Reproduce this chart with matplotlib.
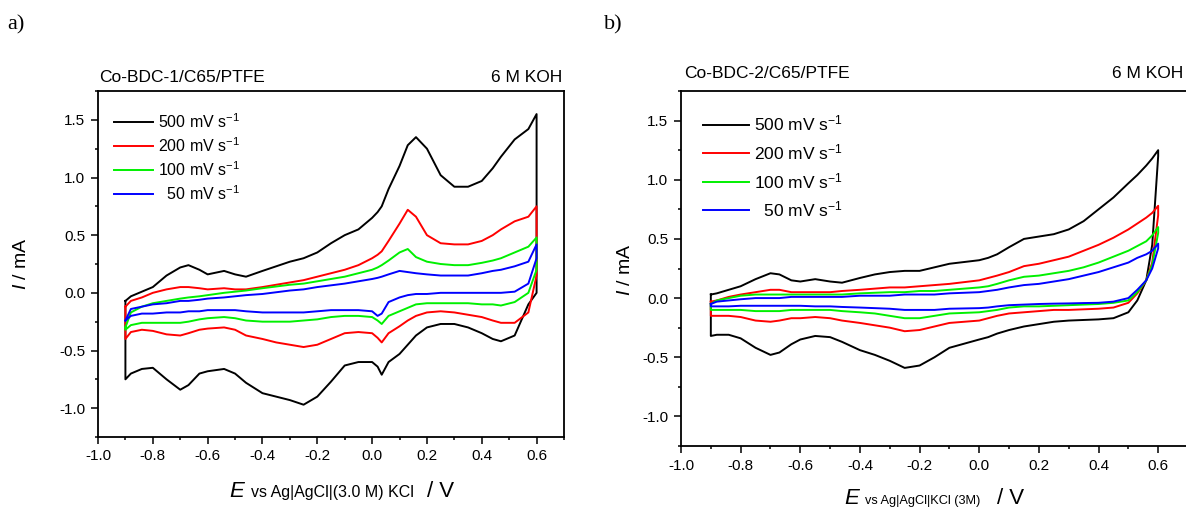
import numpy as np
import matplotlib
matplotlib.use('Agg')
import matplotlib.pyplot as plt
from matplotlib.ticker import MultipleLocator

plt.rcParams['font.family'] = 'Liberation Sans'
plt.rcParams['mathtext.fontset'] = 'custom'
plt.rcParams['mathtext.rm'] = 'Liberation Sans'
plt.rcParams['mathtext.it'] = 'Liberation Sans:italic'

W, H = 1186, 508

rates = ['500 mV s$^{-1}$', '200 mV s$^{-1}$', '100 mV s$^{-1}$', '  50 mV s$^{-1}$']
colors = ['black', '#ff0000', '#00f000', '#0000ff']

# panel a: Co-BDC-1, potential grid (V) and anodic / cathodic currents (mA)
E_a = [-0.9, -0.88, -0.84, -0.8, -0.75, -0.7, -0.67, -0.63, -0.6, -0.54, -0.5, -0.46,
       -0.4, -0.35, -0.3, -0.25, -0.2, -0.15, -0.1, -0.05, 0.0, 0.02, 0.035, 0.06, 0.1,
       0.13, 0.16, 0.2, 0.25, 0.3, 0.35, 0.4, 0.44, 0.47, 0.52, 0.57, 0.6]
a500_up = [-0.07, -0.03, 0.01, 0.05, 0.15, 0.22, 0.24, 0.2, 0.16, 0.19, 0.16, 0.14,
           0.19, 0.23, 0.27, 0.3, 0.35, 0.43, 0.5, 0.55, 0.65, 0.7, 0.75, 0.9, 1.1,
           1.28, 1.35, 1.25, 1.02, 0.92, 0.92, 0.97, 1.08, 1.18, 1.33, 1.42, 1.55]
a500_dn = [-0.75, -0.7, -0.66, -0.65, -0.75, -0.84, -0.8, -0.7, -0.68, -0.66, -0.7, -0.78,
           -0.87, -0.9, -0.93, -0.97, -0.9, -0.77, -0.63, -0.6, -0.6, -0.64, -0.71, -0.6, -0.53,
           -0.45, -0.37, -0.3, -0.27, -0.27, -0.3, -0.35, -0.4, -0.42, -0.37, -0.1, 0.0]
a200_up = [-0.12, -0.07, -0.04, 0.0, 0.03, 0.05, 0.05, 0.04, 0.03, 0.04, 0.03, 0.03,
           0.05, 0.07, 0.09, 0.11, 0.14, 0.17, 0.2, 0.24, 0.3, 0.33, 0.36, 0.45, 0.6,
           0.72, 0.66, 0.5, 0.43, 0.42, 0.42, 0.45, 0.5, 0.55, 0.62, 0.66, 0.75]
a200_dn = [-0.4, -0.34, -0.32, -0.33, -0.36, -0.37, -0.35, -0.32, -0.31, -0.3, -0.32, -0.37,
           -0.4, -0.43, -0.45, -0.47, -0.45, -0.4, -0.35, -0.34, -0.35, -0.39, -0.43, -0.35, -0.29,
           -0.24, -0.2, -0.17, -0.16, -0.17, -0.19, -0.21, -0.24, -0.26, -0.26, -0.17, 0.15]
a100_up = [-0.3, -0.17, -0.12, -0.09, -0.07, -0.05, -0.04, -0.03, -0.02, 0.0, 0.01, 0.02,
           0.04, 0.055, 0.07, 0.08, 0.1, 0.12, 0.14, 0.17, 0.2, 0.22, 0.24, 0.28, 0.35,
           0.38, 0.31, 0.27, 0.25, 0.24, 0.24, 0.26, 0.28, 0.3, 0.35, 0.4, 0.48]
a100_dn = [-0.32, -0.28, -0.26, -0.26, -0.26, -0.26, -0.25, -0.23, -0.22, -0.21, -0.22, -0.24,
           -0.25, -0.25, -0.25, -0.24, -0.23, -0.21, -0.2, -0.2, -0.21, -0.24, -0.27, -0.2, -0.16,
           -0.13, -0.1, -0.09, -0.09, -0.09, -0.09, -0.1, -0.1, -0.11, -0.08, 0.0, 0.2]
a50_up = [-0.24, -0.14, -0.12, -0.1, -0.09, -0.07, -0.07, -0.06, -0.05, -0.04, -0.03, -0.02,
          -0.01, 0.005, 0.02, 0.03, 0.05, 0.065, 0.08, 0.1, 0.12, 0.13, 0.14, 0.16, 0.19,
          0.18, 0.17, 0.16, 0.15, 0.15, 0.15, 0.17, 0.19, 0.2, 0.23, 0.27, 0.42]
a50_dn = [-0.24, -0.2, -0.18, -0.18, -0.17, -0.17, -0.16, -0.16, -0.15, -0.15, -0.15, -0.16,
          -0.17, -0.17, -0.17, -0.17, -0.16, -0.15, -0.15, -0.15, -0.16, -0.2, -0.18, -0.08, -0.04,
          -0.02, -0.01, -0.01, 0.0, 0.0, 0.0, 0.0, 0.0, 0.0, 0.01, 0.08, 0.3]

# panel b: Co-BDC-2
E_b = [-0.9, -0.88, -0.84, -0.8, -0.75, -0.7, -0.67, -0.63, -0.6, -0.55, -0.5, -0.46,
       -0.4, -0.35, -0.3, -0.25, -0.2, -0.15, -0.1, 0.0, 0.03, 0.06, 0.1, 0.15, 0.2,
       0.25, 0.3, 0.35, 0.4, 0.45, 0.5, 0.53, 0.56, 0.58, 0.6]
b500_up = [0.03, 0.04, 0.07, 0.1, 0.16, 0.21, 0.2, 0.15, 0.14, 0.16, 0.14, 0.13,
           0.17, 0.2, 0.22, 0.23, 0.23, 0.26, 0.29, 0.32, 0.34, 0.37, 0.43, 0.5, 0.52,
           0.54, 0.58, 0.65, 0.75, 0.85, 0.97, 1.04, 1.12, 1.18, 1.25]
b500_dn = [-0.32, -0.31, -0.31, -0.34, -0.42, -0.48, -0.46, -0.39, -0.35, -0.32, -0.33, -0.37,
           -0.44, -0.48, -0.53, -0.59, -0.57, -0.5, -0.42, -0.35, -0.33, -0.3, -0.27, -0.24, -0.22,
           -0.2, -0.19, -0.185, -0.18, -0.17, -0.12, -0.02, 0.15, 0.45, 1.2]
b200_up = [-0.03, -0.02, 0.01, 0.03, 0.05, 0.07, 0.07, 0.05, 0.05, 0.05, 0.05, 0.06,
           0.07, 0.08, 0.09, 0.09, 0.1, 0.11, 0.12, 0.15, 0.17, 0.19, 0.22, 0.27, 0.29,
           0.32, 0.35, 0.4, 0.45, 0.51, 0.58, 0.63, 0.68, 0.72, 0.78]
b200_dn = [-0.15, -0.15, -0.15, -0.16, -0.19, -0.2, -0.19, -0.17, -0.17, -0.16, -0.17, -0.19,
           -0.21, -0.23, -0.25, -0.28, -0.27, -0.24, -0.21, -0.19, -0.17, -0.15, -0.13, -0.12, -0.11,
           -0.1, -0.1, -0.095, -0.09, -0.08, -0.04, 0.04, 0.15, 0.3, 0.7]
b100_up = [-0.05, -0.02, 0.0, 0.02, 0.03, 0.03, 0.03, 0.03, 0.03, 0.03, 0.03, 0.03,
           0.04, 0.045, 0.05, 0.05, 0.06, 0.06, 0.07, 0.09, 0.1, 0.12, 0.15, 0.18, 0.19,
           0.21, 0.23, 0.26, 0.3, 0.35, 0.4, 0.44, 0.48, 0.53, 0.6]
b100_dn = [-0.1, -0.1, -0.1, -0.1, -0.11, -0.11, -0.11, -0.1, -0.1, -0.1, -0.1, -0.11,
           -0.12, -0.13, -0.15, -0.17, -0.17, -0.15, -0.13, -0.12, -0.11, -0.1, -0.08, -0.07, -0.07,
           -0.065, -0.06, -0.055, -0.05, -0.04, -0.02, 0.05, 0.15, 0.28, 0.55]
b50_up = [-0.05, -0.03, -0.02, -0.01, 0.0, 0.0, 0.0, 0.01, 0.01, 0.01, 0.01, 0.01,
          0.02, 0.02, 0.02, 0.03, 0.03, 0.03, 0.04, 0.05, 0.06, 0.07, 0.09, 0.11, 0.12,
          0.14, 0.16, 0.19, 0.22, 0.26, 0.3, 0.34, 0.37, 0.4, 0.46]
b50_dn = [-0.07, -0.07, -0.07, -0.065, -0.065, -0.065, -0.065, -0.065, -0.065, -0.07, -0.07, -0.075,
          -0.08, -0.085, -0.09, -0.1, -0.1, -0.1, -0.09, -0.085, -0.08, -0.07, -0.06, -0.055, -0.05,
          -0.047, -0.045, -0.042, -0.04, -0.03, 0.0, 0.07, 0.15, 0.25, 0.42]


def loop(E, up, dn):
    E = np.asarray(E)
    x = np.concatenate([E, E[::-1], E[:1]])
    y = np.concatenate([up, dn[::-1], up[:1]])
    return x, y


def style_axes(ax, right_spine=True):
    ax.set_xlim(-1.0, 0.7)
    ax.set_ylim(-1.25, 1.75)
    ax.xaxis.set_major_locator(MultipleLocator(0.2))
    ax.xaxis.set_minor_locator(MultipleLocator(0.1))
    ax.yaxis.set_major_locator(MultipleLocator(0.5))
    ax.yaxis.set_minor_locator(MultipleLocator(0.25))
    ax.xaxis.set_major_formatter(plt.FuncFormatter(lambda v, p: '%.1f' % v))
    ax.yaxis.set_major_formatter(plt.FuncFormatter(lambda v, p: '%.1f' % v))
    ax.tick_params(which='major', direction='out', length=5, width=1.1, labelsize=11, pad=4)
    ax.tick_params(which='minor', direction='out', length=2.5, width=1.1)
    ax.tick_params(top=False, right=False)
    for s in ax.spines.values():
        s.set_linewidth(1.3)
    ax.spines['right'].set_visible(right_spine)


fig = plt.figure(figsize=(W / 100, H / 100), dpi=100)

ax_a = fig.add_axes([98 / W, 1 - 437 / H, (564 - 98) / W, (437 - 91) / H])
ax_b = fig.add_axes([681 / W, 1 - 446 / H, (1188 - 681) / W, (446 - 91) / H])

curves_a = [(a500_up, a500_dn), (a200_up, a200_dn), (a100_up, a100_dn), (a50_up, a50_dn)]
curves_b = [(b500_up, b500_dn), (b200_up, b200_dn), (b100_up, b100_dn), (b50_up, b50_dn)]

for ax, E, curves in [(ax_a, E_a, curves_a), (ax_b, E_b, curves_b)]:
    for (up, dn), c, lab in zip(curves, colors, rates):
        x, y = loop(E, up, dn)
        ax.plot(x, y, color=c, lw=1.4, label=lab, solid_joinstyle='round')

style_axes(ax_a)
style_axes(ax_b, right_spine=False)

ax_a.legend(loc='upper left', bbox_to_anchor=(0.02, 0.957), frameon=False, fontsize=11.5,
            handlelength=2.45, handletextpad=0.3, labelspacing=0.33, borderaxespad=0)
ax_b.legend(loc='upper left', bbox_to_anchor=(0.03, 0.955), frameon=False, fontsize=12.5,
            handlelength=2.65, handletextpad=0.3, labelspacing=0.5, borderaxespad=0)


def ftext(px, py, s, **kw):
    return fig.text(px / W, 1 - py / H, s, **kw)


# panel letters and headers
ftext(7, 29, 'a)', family='Liberation Serif', fontsize=16)
ftext(604, 29, 'b)', family='Liberation Serif', fontsize=16)
ftext(99, 82, 'Co-BDC-1/C65/PTFE', fontsize=12.5)
ftext(562, 82, '6 M KOH', fontsize=12.5, ha='right')
ftext(684, 78, 'Co-BDC-2/C65/PTFE', fontsize=12.5)
ftext(1183, 78, '6 M KOH', fontsize=12.5, ha='right')

# y labels
ftext(22, 264, r'$\it{I}$ / mA', fontsize=14, rotation=90, ha='center', va='center')
ftext(626, 270, r'$\it{I}$ / mA', fontsize=14, rotation=90, ha='center', va='center')

# x labels built from pieces of different size
ftext(229, 497, 'E', fontsize=16, style='italic', va='baseline')
ftext(251, 497, 'vs Ag|AgCl|(3.0 M) KCl', fontsize=11.5, va='baseline')
ftext(427, 497, '/ V', fontsize=16, va='baseline')
ftext(844, 504, 'E', fontsize=16, style='italic', va='baseline')
ftext(865, 504, 'vs Ag|AgCl|KCl (3M)', fontsize=9.2, va='baseline')
ftext(997, 504, '/ V', fontsize=16, va='baseline')

fig.savefig('out.png', dpi=100)
